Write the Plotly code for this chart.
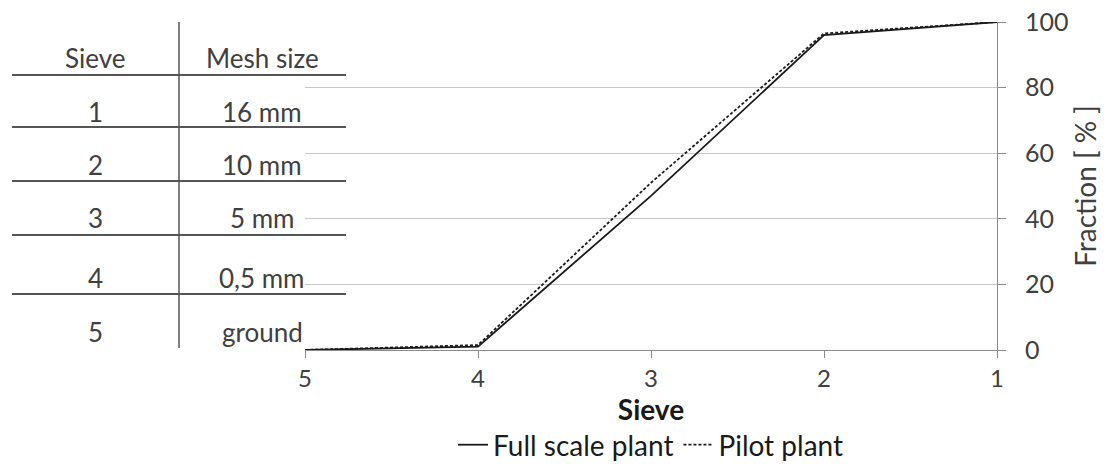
import plotly.graph_objects as go

sieves = ["5", "4", "3", "2", "1"]
full_scale = [0, 1, 47, 96, 100]
pilot = [0, 1.5, 51, 96.5, 100]
y_ticks = [0, 20, 40, 60, 80, 100]

table_header = ["Sieve", "Mesh size"]
table_sieve = ["1", "2", "3", "4", "5"]
table_mesh = ["16 mm", "10 mm", "5 mm", "0,5 mm", "ground"]

FONT = "Lato, Carlito, Calibri, sans-serif"
W, H = 1110, 464
# plot area in page pixels
L, R, T, B = 305, 997, 22, 350

def px(x):
    return (x - L) / (R - L)

def py(y):
    return (B - y) / (B - T)

fig = go.Figure()
fig.add_trace(go.Scatter(x=list(range(len(sieves))), y=full_scale, mode="lines",
                         name="Full scale plant",
                         line=dict(color="#1a1a1a", width=1.8)))
fig.add_trace(go.Scatter(x=list(range(len(sieves))), y=pilot, mode="lines",
                         name="Pilot plant",
                         line=dict(color="#1a1a1a", width=1.8, dash="3px,2px")))

shapes = []
for yy in [75, 127, 181, 235, 294]:
    shapes.append(dict(type="line", xref="paper", yref="paper",
                       x0=px(12), x1=px(346), y0=py(yy), y1=py(yy),
                       line=dict(color="#555555", width=2), layer="above"))
shapes.append(dict(type="line", xref="paper", yref="paper",
                   x0=px(179), x1=px(179), y0=py(22), y1=py(348),
                   line=dict(color="#555555", width=1.5), layer="above"))

annotations = []
row_y = [58, 112, 165, 218, 278, 332]
col_x = [95, 262]
tfont = dict(family=FONT, size=26, color="#404040")
for j, h in enumerate(table_header):
    annotations.append(dict(text=h, x=px(col_x[j]), y=py(row_y[0]), xref="paper", yref="paper",
                            xanchor="center", yanchor="middle", showarrow=False, font=tfont))
for i in range(len(table_sieve)):
    annotations.append(dict(text=table_sieve[i], x=px(col_x[0]), y=py(row_y[i + 1]),
                            xref="paper", yref="paper", xanchor="center", yanchor="middle",
                            showarrow=False, font=tfont))
    annotations.append(dict(text=table_mesh[i], x=px(col_x[1]), y=py(row_y[i + 1]),
                            xref="paper", yref="paper", xanchor="center", yanchor="middle",
                            showarrow=False, font=tfont))

fig.update_layout(
    width=W, height=H,
    margin=dict(l=L, r=W - R, t=T, b=H - B, autoexpand=False),
    paper_bgcolor="white", plot_bgcolor="white",
    font=dict(family=FONT, size=22, color="#404040"),
    shapes=shapes, annotations=annotations,
    showlegend=True,
    legend=dict(orientation="h", x=0.5, xanchor="center", y=py(445), yanchor="middle",
                font=dict(family=FONT, size=28, color="#1a1a1a"),
                itemwidth=30, tracegroupgap=0, bgcolor="rgba(0,0,0,0)"),
    xaxis=dict(
        tickmode="array", tickvals=list(range(len(sieves))), ticktext=sieves,
        range=[0, len(sieves) - 1], automargin=False,
        showline=True, linecolor="#8c8c8c", linewidth=1,
        ticks="outside", ticklen=7, tickcolor="#8c8c8c",
        showgrid=False, zeroline=False,
        tickfont=dict(family=FONT, size=24, color="#404040"),
        title=dict(text="<b>Sieve</b>", font=dict(family=FONT, size=28, color="#1a1a1a"),
                   standoff=0),
    ),
    yaxis=dict(
        side="right", range=[0, 100], tickvals=y_ticks, automargin=False,
        showline=True, linecolor="#8c8c8c", linewidth=1,
        ticks="outside", ticklen=8, tickcolor="#8c8c8c",
        ticklabelstandoff=14, ticklabeloverflow="allow",
        showgrid=True, gridcolor="#c8c8c8", gridwidth=1, zeroline=False,
        tickfont=dict(family=FONT, size=25, color="#404040"),
        title=dict(text="Fraction [ % ]", font=dict(family=FONT, size=28, color="#404040"),
                   standoff=8),
    ),
)

fig.write_html("out.html", config={"displayModeBar": False},
               post_script="document.body.style.margin='0';document.body.style.overflow='hidden';")
